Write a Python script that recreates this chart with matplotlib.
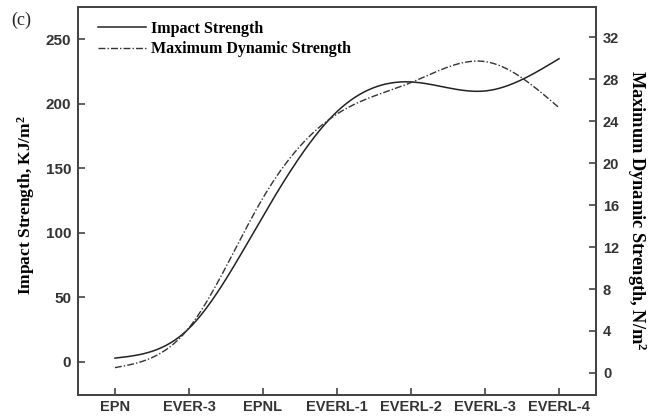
import numpy as np
import matplotlib
matplotlib.use("Agg")
import matplotlib.pyplot as plt

plt.rcParams["mathtext.fontset"] = "custom"
plt.rcParams["mathtext.rm"] = "Liberation Serif:bold"
plt.rcParams["mathtext.bf"] = "Liberation Serif:bold"
plt.rcParams["mathtext.it"] = "Liberation Serif:bold"

categories = ["EPN", "EVER-3", "EPNL", "EVERL-1", "EVERL-2", "EVERL-3", "EVERL-4"]
impact_strength = [3, 26, 113, 194, 217, 210, 235]
dynamic_strength = [0.5, 4.3, 16.7, 24.7, 27.7, 29.7, 25.3]
left_ticks = [0, 50, 100, 150, 200, 250]
right_ticks = [0, 4, 8, 12, 16, 20, 24, 28, 32]


def natural_spline(x, y, n=300):
    x = np.asarray(x, float); y = np.asarray(y, float)
    k = len(x)
    h = np.diff(x)
    A = np.zeros((k, k)); b = np.zeros(k)
    A[0, 0] = A[-1, -1] = 1
    for i in range(1, k - 1):
        A[i, i - 1] = h[i - 1]
        A[i, i] = 2 * (h[i - 1] + h[i])
        A[i, i + 1] = h[i]
        b[i] = 3 * ((y[i + 1] - y[i]) / h[i] - (y[i] - y[i - 1]) / h[i - 1])
    c = np.linalg.solve(A, b)
    xs = np.linspace(x[0], x[-1], n)
    ys = np.empty_like(xs)
    for j, xv in enumerate(xs):
        i = min(np.searchsorted(x, xv, side="right") - 1, k - 2)
        d = xv - x[i]
        bi = (y[i + 1] - y[i]) / h[i] - h[i] * (2 * c[i] + c[i + 1]) / 3
        di = (c[i + 1] - c[i]) / (3 * h[i])
        ys[j] = y[i] + bi * d + c[i] * d ** 2 + di * d ** 3
    return xs, ys


serif = "Liberation Serif"
sans = "Liberation Sans"

fig = plt.figure(figsize=(6.55, 4.17), dpi=100)
ax = fig.add_axes([0.119, 0.053, 0.791, 0.930])
ax2 = ax.twinx()

x = np.arange(len(categories))
xs, ys = natural_spline(x, impact_strength)
l1, = ax.plot(xs, ys, color="#222222", lw=1.1, label="Impact Strength")
xs2, ys2 = natural_spline(x, dynamic_strength)
l2, = ax2.plot(xs2, ys2, color="#333333", lw=1.0, linestyle=(0, (5, 1.5, 1, 1.5)),
               label="Maximum Dynamic Strength")

ax.set_xlim(-0.5, 6.5)
ax.set_ylim(-25.5, 275)
ax2.set_ylim(-2.1, 34.9)
ax.set_xticks(x)
ax.set_xticklabels(categories, fontfamily=sans, fontweight="bold", fontsize=10.5, color="#333333")
ax.set_yticks(left_ticks)
ax.set_yticklabels([str(t) for t in left_ticks], fontfamily=sans, fontweight="bold", fontsize=11, color="#333333")
ax2.set_yticks(right_ticks)
ax2.set_yticklabels([str(t) for t in right_ticks], fontfamily=sans, fontweight="bold", fontsize=10.5, color="#333333")

for a in (ax, ax2):
    a.tick_params(direction="in", length=5, width=1.2, color="#444444", pad=5)
    for s in a.spines.values():
        s.set_linewidth(1.4)
        s.set_color("#444444")
ax.tick_params(axis="x", pad=4)

ax.set_ylabel("Impact Strength, KJ/m$^{2}$", fontfamily=serif, fontweight="bold", fontsize=12.5, labelpad=6)
ax2.set_ylabel("Maximum Dynamic Strength, N/m$^{2}$", fontfamily=serif, fontweight="bold",
               fontsize=13.2, rotation=270, labelpad=21)
ax.yaxis.label.set_y(0.49)
ax2.yaxis.label.set_y(0.475)

leg = ax.legend(handles=[l1, l2], loc="upper left", frameon=False, bbox_to_anchor=(0.02, 0.99),
                prop={"family": serif, "weight": "bold", "size": 11.5}, handlelength=3.0,
                handletextpad=0.3, labelspacing=0.3, borderaxespad=0.2)

fig.text(0.017, 0.94, "(c)", fontfamily=serif, fontsize=13, color="#222222")

fig.savefig("out.png", dpi=100)
